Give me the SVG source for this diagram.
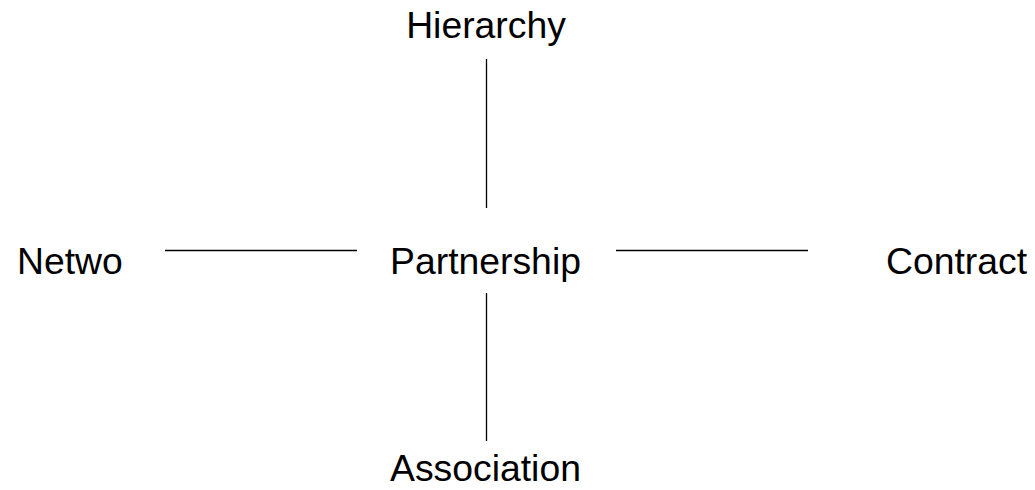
<svg xmlns="http://www.w3.org/2000/svg" width="1035" height="490" viewBox="0 0 1035 490">
  <style>
    .label { font-family: "Liberation Sans", Arial, sans-serif; font-size: 37.33px; fill: #000; }
    .link { stroke: #000; stroke-width: 1.3; fill: none; }
  </style>
  <rect width="1035" height="490" fill="#fff"/>
  <g id="connectors">
    <line class="link" x1="486.5" y1="59" x2="486.5" y2="208"/>
    <line class="link" x1="486.5" y1="293" x2="486.5" y2="441"/>
    <line class="link" x1="165" y1="250.5" x2="357" y2="250.5"/>
    <line class="link" x1="616" y1="250.5" x2="808" y2="250.5"/>
  </g>
  <g id="node-partnership"><text class="label" x="485.5" y="274" text-anchor="middle">Partnership</text></g>
  <g id="node-hierarchy"><text class="label" x="486" y="38" text-anchor="middle">Hierarchy</text></g>
  <g id="node-association"><text class="label" x="485.5" y="481" text-anchor="middle">Association</text></g>
  <g id="node-network"><text class="label" x="17" y="274">Netwo</text></g>
  <g id="node-contract"><text class="label" x="886" y="274">Contract</text></g>
</svg>
